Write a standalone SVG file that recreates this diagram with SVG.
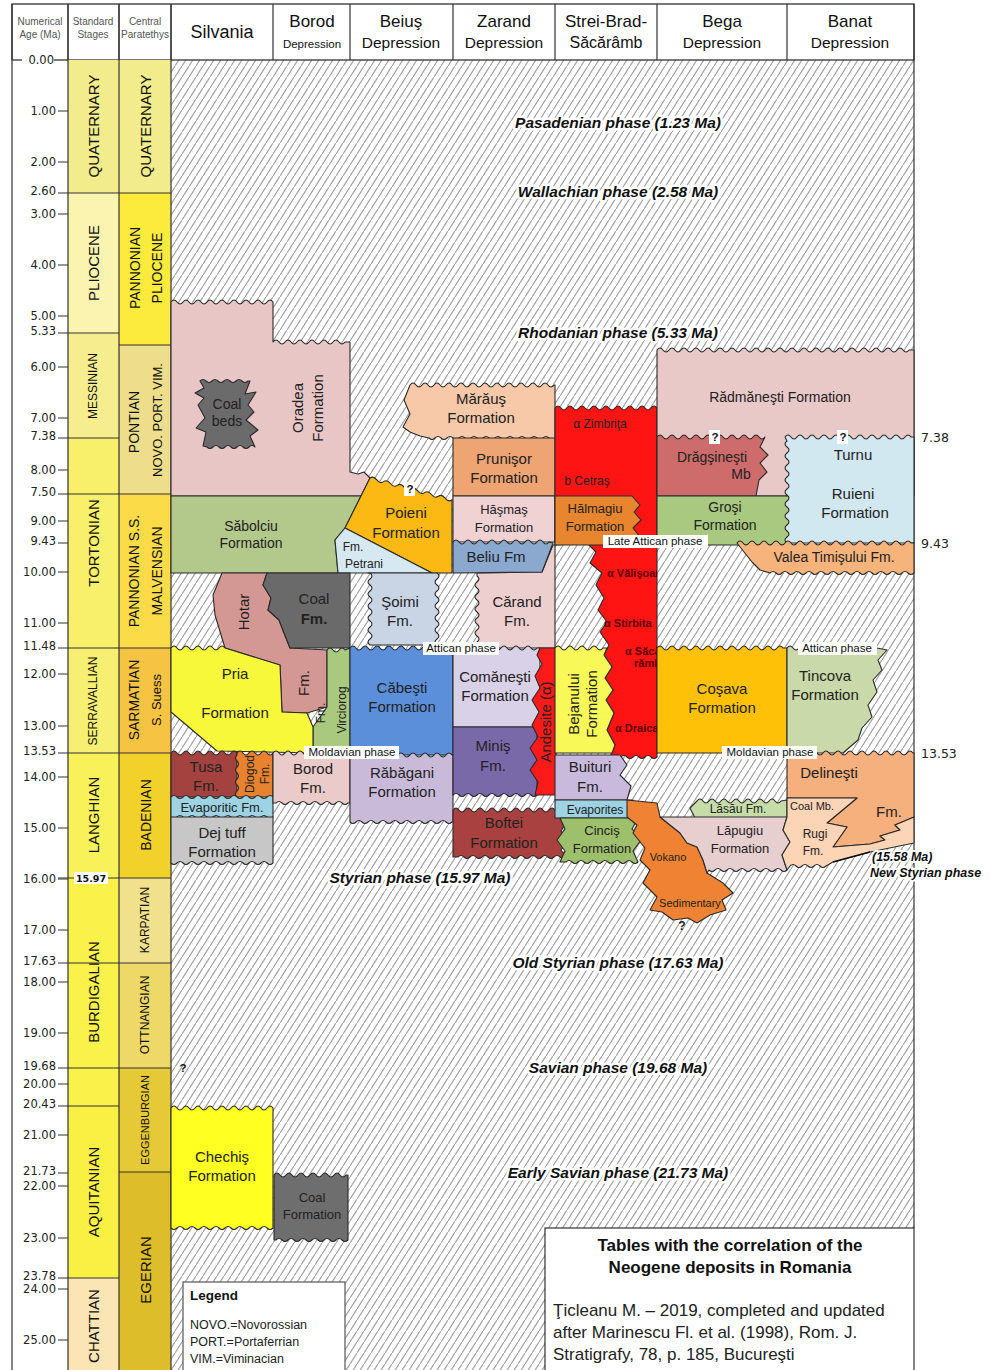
<svg xmlns="http://www.w3.org/2000/svg" width="991" height="1370" viewBox="0 0 991 1370">
<defs>
<pattern id="hatch" patternUnits="userSpaceOnUse" width="7" height="11">
<rect width="7" height="11" fill="#fff"/>
<path d="M-1,12.57 L8,-1.57" stroke="#9e9e9e" stroke-width="1.2"/>
</pattern>
<clipPath id="redclip"><rect x="555" y="400" width="102" height="360"/></clipPath>
<style>
.t{font-family:"Liberation Sans",Arial,sans-serif;fill:#222;text-anchor:middle;font-size:15px}
.s13{font-size:13px}.s12{font-size:12px}.s11{font-size:11px}.s14{font-size:14px}
.n{font-family:"DejaVu Sans",Verdana,sans-serif;font-size:11.5px;fill:#222;text-anchor:end}
.ph{font-family:"Liberation Sans",Arial,sans-serif;font-weight:bold;font-style:italic;font-size:15.5px;text-anchor:middle;fill:#111;stroke:#fff;stroke-width:5;stroke-linejoin:round;paint-order:stroke}
.phs{font-family:"Liberation Sans",Arial,sans-serif;font-weight:bold;font-style:italic;font-size:12.5px;text-anchor:start;fill:#111;stroke:#fff;stroke-width:4;stroke-linejoin:round;paint-order:stroke}
.lab{font-family:"Liberation Sans",Arial,sans-serif;font-size:11.5px;fill:#111;text-anchor:middle}
.f{stroke:#2a2a2a;stroke-width:1.1;stroke-linejoin:round}
.grid{stroke:#333;stroke-width:1.2;fill:none}
.hd{font-family:"Liberation Sans",Arial,sans-serif;fill:#111;text-anchor:middle}
.hs{font-family:"Liberation Sans",Arial,sans-serif;fill:#555;text-anchor:middle;font-size:10px}
.red{font-family:"Liberation Sans",Arial,sans-serif;font-size:11px;font-weight:bold;fill:#5a0000}
</style>
</defs>

<rect width="991" height="1370" fill="#fff"/>
<!-- hatched background -->
<rect x="171" y="60" width="743" height="1310" fill="url(#hatch)"/>

<!-- header -->
<g id="header">
<rect x="12" y="4" width="902" height="56" fill="#fff" stroke="#333" stroke-width="1.3"/>
<path class="grid" d="M68,4V60 M119,4V60 M171,4V60 M273,4V60 M350,4V60 M453,4V60 M555,4V60 M657,4V60 M787,4V60"/>
<text class="hs" x="40" y="25">Numerical</text>
<text class="hs" x="40" y="38">Age (Ma)</text>
<text class="hs" x="93" y="25">Standard</text>
<text class="hs" x="93" y="38">Stages</text>
<text class="hs" x="145" y="25">Central</text>
<text class="hs" x="145" y="38">Paratethys</text>
<text class="hd" x="222" y="38" font-size="18">Silvania</text>
<text class="hd" x="312" y="27" font-size="17">Borod</text>
<text class="hd" x="312" y="48" font-size="11.5">Depression</text>
<text class="hd" x="401" y="27" font-size="17">Beiuş</text>
<text class="hd" x="401" y="48" font-size="15.5">Depression</text>
<text class="hd" x="504" y="27" font-size="17">Zarand</text>
<text class="hd" x="504" y="48" font-size="15.5">Depression</text>
<text class="hd" x="606" y="27" font-size="17">Strei-Brad-</text>
<text class="hd" x="606" y="48" font-size="16">Săcărâmb</text>
<text class="hd" x="722" y="27" font-size="17">Bega</text>
<text class="hd" x="722" y="48" font-size="15.5">Depression</text>
<text class="hd" x="850" y="27" font-size="17">Banat</text>
<text class="hd" x="850" y="48" font-size="15.5">Depression</text>
</g>

<!-- left columns -->
<g id="stages">
<rect x="68" y="60" width="51" height="133" fill="#F3EC8C"/>
<rect x="68" y="193" width="51" height="140" fill="#FAF4B0"/>
<rect x="68" y="333" width="51" height="105" fill="#F6EE8E"/>
<rect x="68" y="438" width="51" height="210" fill="#F8EF6A"/>
<rect x="68" y="648" width="51" height="105" fill="#F6EF72"/>
<rect x="68" y="753" width="51" height="125" fill="#F9F15A"/>
<rect x="68" y="878" width="51" height="228" fill="#FAF14A"/>
<rect x="68" y="1106" width="51" height="172" fill="#FAF043"/>
<rect x="68" y="1278" width="51" height="92" fill="#FCE5B5"/>
<rect x="119" y="60" width="52" height="133" fill="#F3EC8C"/>
<rect x="119" y="193" width="52" height="152" fill="#FCEA3C"/>
<rect x="119" y="345" width="52" height="149" fill="#EEDD8A"/>
<rect x="119" y="494" width="52" height="154" fill="#FBDC48"/>
<rect x="119" y="648" width="52" height="105" fill="#F6C343"/>
<rect x="119" y="753" width="52" height="125" fill="#F2D12A"/>
<rect x="119" y="878" width="52" height="85" fill="#F1E08C"/>
<rect x="119" y="963" width="52" height="105" fill="#EED968"/>
<rect x="119" y="1068" width="52" height="104" fill="#E6C937"/>
<rect x="119" y="1172" width="52" height="198" fill="#DDBE2A"/>
<path class="grid" d="M58,193H171 M58,333H119 M119,345H171 M58,438H119 M58,494H171 M58,543H68 M58,648H171 M58,753H171 M58,878H171 M58,963H171 M58,1068H171 M58,1106H119 M119,1172H171 M58,1173H68 M58,1278H119"/>
<path class="grid" d="M58,111H68 M58,162H68 M58,214H68 M58,265H68 M58,316H68 M58,367H68 M58,418H68 M58,470H68 M58,521H68 M58,572H68 M58,623H68 M58,674H68 M58,726H68 M58,777H68 M58,828H68 M58,879H68 M58,930H68 M58,982H68 M58,1033H68 M58,1084H68 M58,1135H68 M58,1186H68 M58,1238H68 M58,1289H68 M58,1340H68"/>
<path class="grid" d="M12,4V1370 M68,4V1370 M119,4V1370 M171,4V1370"/>
<g class="hd" font-size="15" fill="#333">
<text transform="rotate(-90 99 126)" x="99" y="126">QUATERNARY</text>
<text transform="rotate(-90 99 263)" x="99" y="263">PLIOCENE</text>
<text transform="rotate(-90 97 386)" x="97" y="386" font-size="12">MESSINIAN</text>
<text transform="rotate(-90 99 543)" x="99" y="543">TORTONIAN</text>
<text transform="rotate(-90 97 701)" x="97" y="701" font-size="12">SERRAVALLIAN</text>
<text transform="rotate(-90 99 815)" x="99" y="815">LANGHIAN</text>
<text transform="rotate(-90 99 992)" x="99" y="992">BURDIGALIAN</text>
<text transform="rotate(-90 99 1192)" x="99" y="1192">AQUITANIAN</text>
<text transform="rotate(-90 99 1326)" x="99" y="1326">CHATTIAN</text>
<text transform="rotate(-90 151 126)" x="151" y="126">QUATERNARY</text>
<text transform="rotate(-90 140 268)" x="140" y="268" font-size="14">PANNONIAN</text>
<text transform="rotate(-90 162 268)" x="162" y="268" font-size="14">PLIOCENE</text>
<text transform="rotate(-90 139 422)" x="139" y="422" font-size="14">PONTIAN</text>
<text transform="rotate(-90 162 420)" x="162" y="420" font-size="13">NOVO. PORT. VIM.</text>
<text transform="rotate(-90 139 571)" x="139" y="571" font-size="14">PANNONIAN S.S.</text>
<text transform="rotate(-90 162 571)" x="162" y="571" font-size="14">MALVENSIAN</text>
<text transform="rotate(-90 139 700)" x="139" y="700" font-size="14">SARMATIAN</text>
<text transform="rotate(-90 161 700)" x="161" y="700" font-size="13">S. Suess</text>
<text transform="rotate(-90 151 815)" x="151" y="815" font-size="14">BADENIAN</text>
<text transform="rotate(-90 149 920)" x="149" y="920" font-size="12">KARPATIAN</text>
<text transform="rotate(-90 149 1015)" x="149" y="1015" font-size="12">OTTNANGIAN</text>
<text transform="rotate(-90 149 1120)" x="149" y="1120" font-size="11">EGGENBURGIAN</text>
<text transform="rotate(-90 151 1270)" x="151" y="1270">EGERIAN</text>
</g>
<rect x="74" y="872" width="34" height="12" fill="#fff"/>
<text x="91" y="882" font-family="DejaVu Sans,sans-serif" font-size="9.5" font-weight="bold" text-anchor="middle" fill="#111">15.97</text>
</g>

<g id="ages">
<rect x="22" y="55" width="32" height="11" fill="#fff"/>
<text class="n" x="54" y="64">0.00</text>
<text class="n" x="56" y="115">1.00</text>
<text class="n" x="56" y="166">2.00</text>
<text class="n" x="56" y="195">2.60</text>
<text class="n" x="56" y="218">3.00</text>
<text class="n" x="56" y="269">4.00</text>
<text class="n" x="56" y="320">5.00</text>
<text class="n" x="56" y="335">5.33</text>
<text class="n" x="56" y="371">6.00</text>
<text class="n" x="56" y="422">7.00</text>
<text class="n" x="56" y="440">7.38</text>
<text class="n" x="56" y="474">8.00</text>
<text class="n" x="56" y="496">7.50</text>
<text class="n" x="56" y="525">9.00</text>
<text class="n" x="56" y="545">9.43</text>
<text class="n" x="56" y="576">10.00</text>
<text class="n" x="56" y="627">11.00</text>
<text class="n" x="56" y="650">11.48</text>
<text class="n" x="56" y="678">12.00</text>
<text class="n" x="56" y="730">13.00</text>
<text class="n" x="56" y="755">13.53</text>
<text class="n" x="56" y="781">14.00</text>
<text class="n" x="56" y="832">15.00</text>
<text class="n" x="56" y="883">16.00</text>
<text class="n" x="56" y="934">17.00</text>
<text class="n" x="56" y="965">17.63</text>
<text class="n" x="56" y="986">18.00</text>
<text class="n" x="56" y="1037">19.00</text>
<text class="n" x="56" y="1070">19.68</text>
<text class="n" x="56" y="1088">20.00</text>
<text class="n" x="56" y="1108">20.43</text>
<text class="n" x="56" y="1139">21.00</text>
<text class="n" x="56" y="1175">21.73</text>
<text class="n" x="56" y="1190">22.00</text>
<text class="n" x="56" y="1242">23.00</text>
<text class="n" x="56" y="1280">23.78</text>
<text class="n" x="56" y="1293">24.00</text>
<text class="n" x="56" y="1344">25.00</text>
</g>

<!-- right frame -->
<path class="grid" d="M914,4V1228"/>

<!-- ===== Silvania / Borod ===== -->
<g id="oradea">
<path class="f" fill="#E8C6C6" d="M171,302 q3,-4 6,0 t6,0 t6,0 t6,0 t6,0 t6,0 t6,0 t6,0 t6,0 t6,0 t6,0 t6,0 t6,0 t6,0 t6,0 t6,0 t6,0 L273,302 L273,342 q3,-4 6,0 t6,0 t6,0 t6,0 t6,0 t6,0 t6,0 t6,0 t6,0 t6,0 t6,0 t6,0 L350,342 L350,472 L358,474 L364,472 L370,478 L361,496 L171,496 Z"/>
<text class="t" transform="rotate(-90 303 408)" x="303" y="408">Oradea</text>
<text class="t" transform="rotate(-90 323 408)" x="323" y="408">Formation</text>
</g>
<g id="coal-beds">
<path class="f" fill="#6B6B6B" d="M200,381 q3,-3 6,0 t6,0 t6,0 t6,0 t6,0 t6,0 t6,0 t6,0 L250,381 L245,394 L256,392 L248,405 L254,412 L246,420 L258,430 L250,436 L255,447 q-3,-3 -6,0 t-6,0 t-6,0 t-6,0 t-6,0 t-6,0 t-6,0 t-6,0 L203,446 L206,432 L196,428 L205,418 L198,405 L204,398 L195,393 L204,388 Z"/>
<text class="t s14" x="227" y="409" fill="#dcdcdc">Coal</text>
<text class="t s14" x="227" y="426" fill="#dcdcdc">beds</text>
</g>
<g id="sabolciu">
<path class="f" fill="#B3C98B" d="M171,496 L361,496 L345,528 L335,540 L338,573 L171,573 Z"/>
<text class="t s14" x="251" y="531">Săbolciu</text>
<text class="t s14" x="251" y="548">Formation</text>
</g>
<g id="poieni">
<path class="f" fill="#FDB913" d="M370,478 q3.4,-2.5 6.83,1.83 t6.83,1.83 t6.83,1.83 t6.83,1.83 t6.83,1.83 t6.83,1.83 t6.83,1.83 t6.83,1.83 t6.83,1.83 t6.83,1.83 t6.83,1.83 t6.83,1.83 L452,500 L452,573 L432,573 L345,528 Z"/>
<text class="t" x="406" y="518">Poieni</text>
<text class="t" x="406" y="538">Formation</text>
</g>
<g id="petrani">
<path class="f" fill="#D6E9F2" d="M345,528 L432,573 L338,573 L335,540 Z"/>
<text class="t s12" x="353" y="551">Fm.</text>
<text class="t s12" x="364" y="568">Petrani</text>
</g>
<g id="hotar">
<path class="f" fill="#D49894" d="M222,573 L267,573 L263,585 L271,598 L268,610 L279,620 L284,633 L290,648 L327,650 L327,707 L307,713 L282,712 L280,665 L225,648 L215,615 L213,595 Z"/>
<text class="t" transform="rotate(-90 249 612)" x="249" y="612">Hotar</text>
<text class="t" transform="rotate(-90 309 683)" x="309" y="683">Fm.</text>
</g>
<g id="coal-fm">
<path class="f" fill="#6A6A6A" d="M267,573 L350,573 L350,648 L290,648 L284,633 L279,620 L268,610 L271,598 L263,585 Z"/>
<text class="t" x="314" y="604" font-size="16" fill="#111">Coal</text>
<text class="t" x="314" y="624" font-size="16" font-weight="bold" fill="#111">Fm.</text>
</g>
<g id="virciorog">
<path class="f" fill="#A9C97E" d="M327,650 q3,-4 6,0 t6,0 t6,0 L350,648 L350,753 L313,753 L313,727 L327,707 Z"/>
<text class="t s12" transform="rotate(-90 325 713)" x="325" y="713">Fm.</text>
<text class="t s12" transform="rotate(-90 346 710)" x="346" y="710">Virciorog</text>
</g>
<g id="pria">
<path class="f" fill="#F8F83A" d="M171,648 q3,-4 6,0 t6,0 t6,0 t6,0 t6,0 t6,0 t6,0 t6,0 t6,0 L225,648 L280,665 L282,712 L307,713 L313,727 L313,753 L217,751 L171,712 Z"/>
<text class="t" x="235" y="679">Pria</text>
<text class="t" x="235" y="718">Formation</text>
</g>
<g id="tusa">
<path class="f" fill="#A3423F" d="M171,753 q3,-4 6,0 t6,0 t6,0 t6,0 t6,0 t6,0 t6,0 t6,0 t6,0 t6,0 t6,0 L237,753 L237,797 L171,797 Z"/>
<text class="t" x="206" y="772">Tusa</text>
<text class="t" x="206" y="791">Fm.</text>
</g>
<g id="diogod">
<path class="f" fill="#E8822E" d="M237,753 q3,-4 6,0 t6,0 t6,0 t6,0 t6,0 t6,0 L273,753 L273,797 L237,797 q-3,-3 0,-6 t0,-6 t0,-6 t0,-6 t0,-6 t0,-6 t0,-6 L237,753 Z"/>
<text class="t s12" transform="rotate(-90 254 774)" x="254" y="774">Diogod</text>
<text class="t s12" transform="rotate(-90 269 774)" x="269" y="774">Fm.</text>
</g>
<g id="evaporitic">
<path class="f" fill="#9DD3E2" d="M171,797 q3,-3 6,0 t6,0 t6,0 t6,0 t6,0 t6,0 t6,0 t6,0 t6,0 t6,0 t6,0 t6,0 t6,0 t6,0 t6,0 t6,0 t6,0 L273,797 L273,817 q-3,3 -6,0 t-6,0 t-6,0 t-6,0 t-6,0 t-6,0 t-6,0 t-6,0 t-6,0 t-6,0 t-6,0 t-6,0 t-6,0 t-6,0 t-6,0 t-6,0 t-6,0 Z"/>
<text class="t s13" x="222" y="812">Evaporitic Fm.</text>
</g>
<g id="dej-tuff">
<path class="f" fill="#C7C7C7" d="M171,817 L273,817 L273,863 q-3,3 -6,0 t-6,0 t-6,0 t-6,0 t-6,0 t-6,0 t-6,0 t-6,0 t-6,0 t-6,0 t-6,0 t-6,0 t-6,0 t-6,0 t-6,0 t-6,0 t-6,0 Z"/>
<text class="t" x="222" y="838">Dej tuff</text>
<text class="t" x="222" y="857">Formation</text>
</g>
<g id="borod-fm">
<path class="f" fill="#EBCACA" d="M273,753 q3,-4 6,0 t6,0 t6,0 t6,0 t6,0 t6,0 t6,0 t6,0 t6,0 t6,0 t6,0 t6,0 L350,753 L350,803 L348,803 q-3,3 -6,0 t-6,0 t-6,0 t-6,0 t-6,0 t-6,0 t-6,0 t-6,0 t-6,0 t-6,0 t-6,0 t-6,0 L273,803 Z"/>
<text class="t" x="313" y="774">Borod</text>
<text class="t" x="313" y="793">Fm.</text>
</g>
<g id="chechis">
<path class="f" fill="#FFFF22" d="M171,1108 q3,-4 6,0 t6,0 t6,0 t6,0 t6,0 t6,0 t6,0 t6,0 t6,0 t6,0 t6,0 t6,0 t6,0 t6,0 t6,0 t6,0 t6,0 L273,1108 L273,1228 q-3,3 -6,0 t-6,0 t-6,0 t-6,0 t-6,0 t-6,0 t-6,0 t-6,0 t-6,0 t-6,0 t-6,0 t-6,0 t-6,0 t-6,0 t-6,0 t-6,0 t-6,0 Z"/>
<text class="t" x="222" y="1162">Chechiş</text>
<text class="t" x="222" y="1181">Formation</text>
</g>
<g id="coal-formation">
<path class="f" fill="#6E6E6E" d="M274,1175 q3,-4 6,0 t6,0 t6,0 t6,0 t6,0 t6,0 t6,0 t6,0 t6,0 t6,0 t6,0 t6,0 L348,1175 L348,1240 q-3,3 -6,0 t-6,0 t-6,0 t-6,0 t-6,0 t-6,0 t-6,0 t-6,0 t-6,0 t-6,0 t-6,0 t-6,0 L274,1240 Z"/>
<text class="t s13" x="312" y="1202" fill="#d8d8d8">Coal</text>
<text class="t s13" x="312" y="1219" fill="#d8d8d8">Formation</text>
</g>

<!-- ===== Beius ===== -->
<g id="soimi">
<path class="f" fill="#C9D5E5" d="M368,573 L437,573 q4,3 0,6 t0,6 t0,6 t0,6 t0,6 t0,6 t0,6 t0,6 t0,6 t0,6 t0,6 t0,6 L370,645 q-4,-3 0,-6 t0,-6 t0,-6 t0,-6 t0,-6 t0,-6 t0,-6 t0,-6 t0,-6 t0,-6 t0,-6 t0,-6 Z"/>
<text class="t" x="400" y="607">Şoimi</text>
<text class="t" x="400" y="626">Fm.</text>
</g>
<g id="cabesti">
<path class="f" fill="#5C8FDA" d="M350,648 q3,-4 6,0 t6,0 t6,0 t6,0 t6,0 t6,0 t6,0 t6,0 t6,0 t6,0 t6,0 t6,0 t6,0 t6,0 t6,0 t6,0 t6,0 L453,648 L453,755 L350,755 Z"/>
<text class="t" x="402" y="693">Căbeşti</text>
<text class="t" x="402" y="712">Formation</text>
</g>
<g id="rabagani">
<path class="f" fill="#CABADA" d="M350,755 q3,-4 6,0 t6,0 t6,0 t6,0 t6,0 t6,0 t6,0 t6,0 t6,0 t6,0 t6,0 t6,0 t6,0 t6,0 t6,0 t6,0 t6,0 L453,755 L453,822 L452,822 q-3,3 -6,0 t-6,0 t-6,0 t-6,0 t-6,0 t-6,0 t-6,0 t-6,0 t-6,0 t-6,0 t-6,0 t-6,0 t-6,0 t-6,0 t-6,0 t-6,0 t-6,0 Z"/>
<text class="t" x="402" y="778">Răbăgani</text>
<text class="t" x="402" y="797">Formation</text>
</g>

<!-- ===== Zarand ===== -->
<g id="maraus">
<path class="f" fill="#F7C9A9" d="M410,385 q3,-4 6,0 t6,0 t6,0 t6,0 t6,0 t6,0 t6,0 t6,0 t6,0 t6,0 t6,0 t6,0 t6,0 t6,0 t6,0 t6,0 t6,0 t6,0 t6,0 t6,0 t6,0 t6,0 t6,0 t6,0 L555,385 L555,438 q-3,3 -6,0 t-6,0 t-6,0 t-6,0 t-6,0 t-6,0 t-6,0 t-6,0 t-6,0 t-6,0 t-6,0 t-6,0 t-6,0 t-6,0 t-6,0 t-6,0 t-6,0 t-6,0 t-6,0 t-6,0 t-6,0 L420,436 L410,432 L403,427 L410,414 L404,400 Z"/>
<text class="t" x="481" y="404">Mărăuş</text>
<text class="t" x="481" y="423">Formation</text>
</g>
<g id="prunisor">
<rect class="f" fill="#EFA474" x="453" y="438" width="102" height="58"/>
<text class="t" x="504" y="464">Prunişor</text>
<text class="t" x="504" y="483">Formation</text>
</g>
<g id="hasmas">
<rect class="f" fill="#F0D2D2" x="453" y="496" width="102" height="46"/>
<text class="t s13" x="504" y="514">Hăşmaş</text>
<text class="t s13" x="504" y="532">Formation</text>
</g>
<g id="carand">
<path class="f" fill="#EDCFCF" d="M477,573 L542,572 L553,545 L555,545 L555,648 L477,648 q-4,-3 0,-6 t0,-6 t0,-6 t0,-6 t0,-6 t0,-6 t0,-6 t0,-6 t0,-6 t0,-6 t0,-6 t0,-6 Z"/>
<text class="t" x="517" y="607">Cărand</text>
<text class="t" x="517" y="626">Fm.</text>
</g>
<g id="beliu">
<path class="f" fill="#8BA9CE" d="M453,542 q3,-4 6,0 t6,0 t6,0 t6,0 t6,0 t6,0 t6,0 t6,0 t6,0 t6,0 t6,0 t6,0 t6,0 t6,0 t6,0 t6,0 L553,543 L542,572 L453,573 Z"/>
<text class="t" x="496" y="562">Beliu Fm</text>
</g>
<g id="comanesti">
<path class="f" fill="#D9D1E8" d="M453,648 q3,-4 6,0 t6,0 t6,0 t6,0 t6,0 t6,0 t6,0 t6,0 t6,0 t6,0 t6,0 t6,0 t6,0 t6,0 L540,648 L540,727 L453,727 Z"/>
<text class="t" x="495" y="682">Comăneşti</text>
<text class="t" x="495" y="701">Formation</text>
</g>
<g id="minis">
<path class="f" fill="#7A69A9" d="M453,727 L537,727 L537,795 q-3,3 -6,0 t-6,0 t-6,0 t-6,0 t-6,0 t-6,0 t-6,0 t-6,0 t-6,0 t-6,0 t-6,0 t-6,0 t-6,0 t-6,0 Z"/>
<text class="t" x="493" y="751">Miniş</text>
<text class="t" x="493" y="771">Fm.</text>
</g>
<g id="andesite">
<path class="f" fill="#FF1A1A" d="M540,648 L556,648 L556,795 L535,795 L538,782 L530,770 L537,760 L530,748 L538,737 L532,725 L539,712 L532,700 L540,688 L535,676 L542,664 L537,655 Z"/>
<text class="t" font-size="10.5" transform="rotate(-90 551 722)" x="551" y="722">Andesite (α)</text>
</g>
<g id="boftei">
<path class="f" fill="#A8413F" d="M453,810 q3,-4 6,0 t6,0 t6,0 t6,0 t6,0 t6,0 t6,0 t6,0 t6,0 t6,0 t6,0 t6,0 t6,0 t6,0 t6,0 t6,0 t6,0 t6,0 L562,812 L567,822 L561,831 L568,841 L561,850 L566,857 q-3,3 -6,0 t-6,0 t-6,0 t-6,0 t-6,0 t-6,0 t-6,0 t-6,0 t-6,0 t-6,0 t-6,0 t-6,0 t-6,0 t-6,0 t-6,0 t-6,0 t-6,0 t-6,0 L453,857 Z"/>
<text class="t" x="504" y="828">Boftei</text>
<text class="t" x="504" y="848">Formation</text>
</g>

<!-- ===== Strei-Brad-Sacaramb ===== -->
<g id="volcanics">
<path class="f" fill="#FF1414" d="M555,408 q3,-4 6,0 t6,0 t6,0 t6,0 t6,0 t6,0 t6,0 t6,0 t6,0 t6,0 t6,0 t6,0 t6,0 t6,0 t6,0 t6,0 t6,0 L657,408 L657,757 q-3,3 -6,0 t-6,0 t-6,0 t-6,0 t-6,0 t-6,0 t-6,0 L610,757 L615,745 L607,730 L614,713 L606,700 L613,690 L605,678 L612,667 L604,655 L609,645 L600,632 L607,622 L598,610 L604,598 L596,585 L602,573 L590,563 L596,552 L587,543 L555,545 Z"/>
<text class="t s12" x="600" y="428" fill="#5a0000">α Zimbriţa</text>
<text class="t s12" x="587" y="485" fill="#5a0000">b Cetraş</text>
<g clip-path="url(#redclip)">
<text class="red" x="607" y="577">α Vălişoara</text>
<text class="red" x="604" y="627">α Stirbita</text>
<text class="red" x="625" y="655">α Săcă-</text>
<text class="red" x="634" y="667">rămb</text>
<text class="red" x="615" y="732">α Draica</text>
</g>
</g>
<g id="halmagiu">
<path class="f" fill="#E8852F" d="M555,496 L632,496 L640,505 L634,512 L641,520 L633,528 L640,537 L636,545 L555,545 Z"/>
<text class="t s13" x="595" y="513">Hălmagiu</text>
<text class="t s13" x="595" y="531">Formation</text>
</g>
<g id="bejanului">
<path class="f" fill="#F8F858" d="M555,648 q3,-4 6,0 t6,0 t6,0 t6,0 t6,0 t6,0 t6,0 t6,0 L607,648 L604,655 L612,667 L605,678 L613,690 L606,700 L614,713 L607,730 L615,745 L612,753 L555,753 Z"/>
<text class="t" transform="rotate(-90 579 704)" x="579" y="704">Bejanului</text>
<text class="t" transform="rotate(-90 597 704)" x="597" y="704">Formation</text>
</g>
<g id="buituri">
<path class="f" fill="#C9B9DC" d="M555,755 L620,755 L627,765 L620,775 L631,786 L627,800 L555,800 Z"/>
<text class="t" x="590" y="772">Buituri</text>
<text class="t" x="590" y="792">Fm.</text>
</g>
<g id="evaporites">
<path class="f" fill="#9DD3E2" d="M555,800 L633,800 L633,818 L555,818 Z"/>
<text class="t s12" x="595" y="814">Evaporites</text>
</g>
<g id="cincis">
<path class="f" fill="#9EBF6B" d="M560,818 L638,818 L632,829 L641,840 L633,851 L638,862 q-3,3 -6,0 t-6,0 t-6,0 t-6,0 t-6,0 t-6,0 t-6,0 t-6,0 t-6,0 t-6,0 t-6,0 t-6,0 L560,862 L565,851 L557,840 L565,829 Z"/>
<text class="t s13" x="602" y="835">Cinciş</text>
<text class="t s13" x="602" y="853">Formation</text>
</g>
<g id="volcano-sedimentary">
<path class="f" fill="#F08233" d="M627,800 L657,803 L660,817 L680,833 L687,843 L697,847 L703,860 L707,873 L723,883 L733,893 L722,900 L726,910 L710,915 L697,923 L688,918 L673,920 L662,912 L650,910 L657,897 L643,883 L650,870 L640,860 L645,848 L633,833 L637,825 L627,817 Z"/>
<text class="t s11" x="668" y="861">Vokano</text>
<text class="t s11" x="690" y="907">Sedimentary</text>
<text class="t s12" x="682" y="930" font-weight="bold" fill="#111">?</text>
</g>

<!-- ===== Bega ===== -->
<g id="radmanesti">
<path class="f" fill="#E9C8C8" d="M657,350 q3,-4 6,0 t6,0 t6,0 t6,0 t6,0 t6,0 t6,0 t6,0 t6,0 t6,0 t6,0 t6,0 t6,0 t6,0 t6,0 t6,0 t6,0 t6,0 t6,0 t6,0 t6,0 t6,0 t6,0 t6,0 t6,0 t6,0 t6,0 t6,0 t6,0 t6,0 t6,0 t6,0 t6,0 t6,0 t6,0 t6,0 t6,0 t6,0 t6,0 t6,0 t6,0 t6,0 L914,350 L914,496 L657,496 Z"/>
<text class="t s14" x="780" y="402">Rădmăneşti Formation</text>
</g>
<g id="dragsinesti">
<path class="f" fill="#CE6B6B" d="M657,437 q3,-4 6,0 t6,0 t6,0 t6,0 t6,0 t6,0 t6,0 t6,0 t6,0 t6,0 t6,0 t6,0 t6,0 t6,0 t6,0 t6,0 t6,0 t6,0 L760,447 L768,455 L760,463 L767,472 L759,480 L756,496 L657,496 Z"/>
<text class="t s14" x="712" y="462">Drăgşineşti</text>
<text class="t s14" x="741" y="479">Mb</text>
</g>
<g id="grosi">
<rect class="f" fill="#A9C980" x="657" y="496" width="133" height="49"/>
<text class="t s14" x="725" y="512">Groşi</text>
<text class="t s14" x="725" y="530">Formation</text>
</g>
<g id="turnu-ruieni">
<path class="f" fill="#D2E8F1" d="M785,437 q3,-4 6,0 t6,0 t6,0 t6,0 t6,0 t6,0 t6,0 t6,0 t6,0 t6,0 t6,0 t6,0 t6,0 t6,0 t6,0 t6,0 t6,0 t6,0 t6,0 t6,0 t6,0 L914,437 L914,543 L787,543 q-4,-3 0,-6 t0,-6 t0,-6 t0,-6 t0,-6 t0,-6 t0,-6 t0,-6 t0,-6 t0,-6 t0,-6 t0,-6 t0,-6 t0,-6 t0,-6 t0,-6 t0,-6 L785,437 Z"/>
<text class="t" x="853" y="460">Turnu</text>
<text class="t" x="853" y="499">Ruieni</text>
<text class="t" x="855" y="518">Formation</text>
</g>
<g id="valea-timisului">
<path class="f" fill="#F6B37C" d="M737,543 q3,-4 6,0 t6,0 t6,0 t6,0 t6,0 t6,0 t6,0 t6,0 t6,0 t6,0 t6,0 t6,0 t6,0 t6,0 t6,0 t6,0 t6,0 t6,0 t6,0 t6,0 t6,0 t6,0 t6,0 t6,0 t6,0 t6,0 t6,0 t6,0 t6,0 L914,543 L914,573 q-3,3 -6,0 t-6,0 t-6,0 t-6,0 t-6,0 t-6,0 t-6,0 t-6,0 t-6,0 t-6,0 t-6,0 t-6,0 t-6,0 t-6,0 t-6,0 t-6,0 t-6,0 t-6,0 t-6,0 t-6,0 t-6,0 t-6,0 t-6,0 t-6,0 L760,570 L752,562 L744,552 Z"/>
<text class="t s14" x="834" y="562">Valea Timişului Fm.</text>
</g>
<g id="cosava">
<path class="f" fill="#FFC107" d="M657,648 q3,-4 6,0 t6,0 t6,0 t6,0 t6,0 t6,0 t6,0 t6,0 t6,0 t6,0 t6,0 t6,0 t6,0 t6,0 t6,0 t6,0 t6,0 t6,0 t6,0 t6,0 t6,0 L787,648 L787,753 L657,753 Z"/>
<text class="t" x="722" y="694">Coşava</text>
<text class="t" x="722" y="713">Formation</text>
</g>
<g id="lasau">
<path class="f" fill="#C6DDA9" d="M695,818 L690,808 L697,801 q3,-4 6,0 t6,0 t6,0 t6,0 t6,0 t6,0 t6,0 t6,0 t6,0 t6,0 t6,0 t6,0 t6,0 t6,0 L787,800 L787,818 Z"/>
<text class="t s12" x="738" y="813">Lăsău Fm.</text>
</g>
<g id="lapugiu">
<path class="f" fill="#E7CFCF" d="M660,817 L787,817 L783,830 L790,842 L782,855 L787,870 q-3,3 -6,0 t-6,0 t-6,0 t-6,0 t-6,0 t-6,0 t-6,0 t-6,0 t-6,0 t-6,0 t-6,0 t-6,0 t-6,0 L707,873 L703,860 L697,847 L687,843 L680,833 Z"/>
<text class="t s13" x="740" y="835">Lăpugiu</text>
<text class="t s13" x="740" y="853">Formation</text>
</g>

<!-- ===== Banat ===== -->
<g id="tincova">
<path class="f" fill="#C9D9A9" d="M787,648 q3,-4 6,0 t6,0 t6,0 t6,0 t6,0 t6,0 t6,0 t6,0 t6,0 t6,0 t6,0 t6,0 t6,0 t6,0 t6,0 L887,650 L878,660 L882,670 L873,680 L877,692 L868,705 L872,717 L862,728 L858,740 L843,753 L787,753 Z"/>
<text class="t" x="825" y="681">Tincova</text>
<text class="t" x="825" y="700">Formation</text>
</g>
<g id="delinesti">
<path class="f" fill="#F5B07D" d="M787,753 q3,-4 6,0 t6,0 t6,0 t6,0 t6,0 t6,0 t6,0 t6,0 t6,0 t6,0 t6,0 t6,0 t6,0 t6,0 t6,0 t6,0 t6,0 t6,0 t6,0 t6,0 t6,0 L914,753 L914,817 L895,825 L900,830 L880,836 L885,840 L870,844 L833,847 L847,827 L827,823 L857,798 L787,798 Z"/>
<text class="t" x="829" y="778">Delineşti</text>
<text class="t" x="889" y="817">Fm.</text>
</g>
<g id="rugi">
<path class="f" fill="#FCD5B6" d="M787,798 L857,798 L827,823 L847,827 L833,847 L870,844 L885,840 L880,836 L900,830 L895,825 L914,817 L914,843 L870,852 L833,862 L826,866 q-3,3 -6,0 t-6,0 t-6,0 t-6,0 t-6,0 t-6,0 L787,870 L782,855 L790,842 L783,830 L787,817 Z"/>
<text class="t s11" x="812" y="810">Coal Mb.</text>
<text class="t s12" x="815" y="838">Rugi</text>
<text class="t s12" x="813" y="855">Fm.</text>
</g>

<!-- connectors -->
<g id="connectors">
<path d="M833,862 L870,852" stroke="#111" stroke-width="1.6" fill="none"/>
</g>

<!-- phase labels -->
<g id="phases">
<text class="ph" x="618" y="128">Pasadenian phase (1.23 Ma)</text>
<text class="ph" x="618" y="197">Wallachian phase (2.58 Ma)</text>
<text class="ph" x="618" y="338">Rhodanian phase (5.33 Ma)</text>
<text class="ph" x="420" y="883">Styrian phase (15.97 Ma)</text>
<text class="ph" x="618" y="968">Old Styrian phase (17.63 Ma)</text>
<text class="ph" x="618" y="1073">Savian phase (19.68 Ma)</text>
<text class="ph" x="618" y="1178">Early Savian phase (21.73 Ma)</text>
<text class="phs" x="872" y="861">(15.58 Ma)</text>
<text class="phs" x="870" y="877">New Styrian phase</text>
<rect x="603" y="535" width="105" height="13" fill="#fff"/>
<text class="lab" x="655" y="545">Late Attican phase</text>
<rect x="423" y="642" width="76" height="13" fill="#fff"/>
<text class="lab" x="461" y="652">Attican phase</text>
<rect x="798" y="642" width="79" height="13" fill="#fff"/>
<text class="lab" x="837" y="652">Attican phase</text>
<rect x="304" y="746" width="95" height="13" fill="#fff"/>
<text class="lab" x="352" y="756">Moldavian phase</text>
<rect x="722" y="746" width="95" height="13" fill="#fff"/>
<text class="lab" x="770" y="756">Moldavian phase</text>
<rect x="404" y="482" width="11" height="14" fill="#fff"/>
<text class="lab" x="410" y="493" font-weight="bold">?</text>
<rect x="709" y="430" width="11" height="14" fill="#fff"/>
<text class="lab" x="715" y="441" font-weight="bold">?</text>
<rect x="837" y="430" width="11" height="14" fill="#fff"/>
<text class="lab" x="843" y="441" font-weight="bold">?</text>
<text class="lab" x="183" y="1072" font-weight="bold">?</text>
<text x="921" y="442" font-family="DejaVu Sans,sans-serif" font-size="12.5" fill="#222">7.38</text>
<text x="921" y="548" font-family="DejaVu Sans,sans-serif" font-size="12.5" fill="#222">9.43</text>
<text x="921" y="758" font-family="DejaVu Sans,sans-serif" font-size="12.5" fill="#222">13.53</text>
</g>

<!-- legend -->
<g id="legend">
<rect x="183" y="1282" width="162" height="92" fill="#fff" stroke="#555" stroke-width="1.2"/>
<text x="190" y="1300" font-family="Liberation Sans,Arial,sans-serif" font-size="13.5" font-weight="bold" fill="#111">Legend</text>
<text x="190" y="1329" font-family="Liberation Sans,Arial,sans-serif" font-size="12.5" fill="#222">NOVO.=Novorossian</text>
<text x="190" y="1346" font-family="Liberation Sans,Arial,sans-serif" font-size="12.5" fill="#222">PORT.=Portaferrian</text>
<text x="190" y="1363" font-family="Liberation Sans,Arial,sans-serif" font-size="12.5" fill="#222">VIM.=Viminacian</text>
</g>

<!-- title -->
<g id="title">
<rect x="545" y="1228" width="369" height="146" fill="#fff" stroke="#333" stroke-width="1.2"/>
<text x="730" y="1251" font-family="Liberation Sans,Arial,sans-serif" font-size="17" font-weight="bold" text-anchor="middle" fill="#111">Tables with the correlation of the</text>
<text x="730" y="1273" font-family="Liberation Sans,Arial,sans-serif" font-size="17" font-weight="bold" text-anchor="middle" fill="#111">Neogene deposits in Romania</text>
<text x="553" y="1316" font-family="Liberation Sans,Arial,sans-serif" font-size="17" fill="#222">Ţicleanu M. – 2019, completed and updated</text>
<text x="553" y="1338" font-family="Liberation Sans,Arial,sans-serif" font-size="17" fill="#222">after Marinescu Fl. et al. (1998), Rom. J.</text>
<text x="553" y="1360" font-family="Liberation Sans,Arial,sans-serif" font-size="17" fill="#222">Stratigrafy, 78, p. 185, Bucureşti</text>
</g>
</svg>
